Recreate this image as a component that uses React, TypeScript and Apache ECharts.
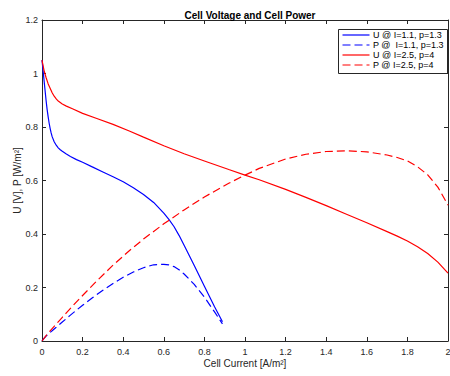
import React, { useEffect, useRef } from 'react';
import * as echarts from 'echarts';

// Operating point I=1.1, p=1.3
const currentLow = [0, 0.004, 0.008, 0.012, 0.016, 0.02, 0.025, 0.03, 0.035, 0.04, 0.045, 0.05, 0.06, 0.07, 0.08, 0.09, 0.1, 0.12, 0.14, 0.17, 0.2, 0.25, 0.3, 0.35, 0.4, 0.45, 0.5, 0.55, 0.6, 0.625, 0.65, 0.675, 0.7, 0.75, 0.8, 0.85, 0.889];
const voltageLow = [1.05, 1.02, 0.99, 0.96, 0.93, 0.9, 0.867, 0.84, 0.815, 0.795, 0.778, 0.764, 0.745, 0.732, 0.722, 0.715, 0.709, 0.699, 0.69, 0.678, 0.668, 0.65, 0.632, 0.614, 0.595, 0.573, 0.548, 0.518, 0.478, 0.455, 0.428, 0.395, 0.358, 0.282, 0.205, 0.128, 0.072];
const powerLow = [0, 0.0041, 0.0079, 0.0115, 0.0149, 0.018, 0.0217, 0.0252, 0.0285, 0.0318, 0.035, 0.0382, 0.0447, 0.0512, 0.0578, 0.0644, 0.0709, 0.0839, 0.0966, 0.1153, 0.1336, 0.1625, 0.1896, 0.2149, 0.238, 0.2579, 0.274, 0.2849, 0.2868, 0.2844, 0.2782, 0.2666, 0.2506, 0.2115, 0.164, 0.1088, 0.064];

// Operating point I=2.5, p=4
const currentHigh = [0, 0.01, 0.02, 0.03, 0.04, 0.05, 0.06, 0.07, 0.08, 0.1, 0.12, 0.15, 0.2, 0.27, 0.35, 0.43, 0.5, 0.6, 0.7, 0.8, 0.92, 1.0, 1.07, 1.2, 1.3, 1.4, 1.5, 1.6, 1.7, 1.75, 1.8, 1.85, 1.9, 1.95, 2.0];
const voltageHigh = [1.05, 1.012, 0.985, 0.962, 0.945, 0.928, 0.915, 0.905, 0.897, 0.886, 0.878, 0.868, 0.851, 0.832, 0.81, 0.785, 0.762, 0.73, 0.7, 0.673, 0.641, 0.62, 0.603, 0.567, 0.537, 0.506, 0.474, 0.442, 0.409, 0.392, 0.374, 0.352, 0.327, 0.295, 0.254];
const powerHigh = [0, 0.0101, 0.0197, 0.0289, 0.0378, 0.0464, 0.0549, 0.0634, 0.0718, 0.0886, 0.1054, 0.1302, 0.1702, 0.2246, 0.2835, 0.3376, 0.381, 0.438, 0.49, 0.5384, 0.5897, 0.62, 0.6452, 0.6804, 0.6981, 0.7084, 0.711, 0.7072, 0.6953, 0.686, 0.6732, 0.6512, 0.6213, 0.5753, 0.508];

const seriesNames = ['U @ I=1.1, p=1.3', 'P @  I=1.1, p=1.3', 'U @ I=2.5, p=4', 'P @ I=2.5, p=4'];
const seriesColors = ['#0000ff', '#0000ff', '#ff0000', '#ff0000'];
const seriesDashed = [false, true, false, true];
const titleText = 'Cell Voltage and Cell Power';
const xName = 'Cell Current [A/m²]';
const yName = 'U [V], P [W/m²]';

const FONT = '"Liberation Sans", Arial, Helvetica, sans-serif';
const AX = '#262626';
const DASH = [8, 4];

const pairs = (xs: number[], ys: number[]) => xs.map((x, i) => [x, ys[i]]);

export default function App() {
  const ref = useRef<HTMLDivElement>(null);
  useEffect(() => {
    if (!ref.current) return;
    const chart = echarts.init(ref.current, undefined, { renderer: 'svg' });
    const axisCommon = {
      type: 'value' as const,
      axisLine: { show: true, onZero: false, lineStyle: { color: AX, width: 1 } },
      axisTick: { show: true, inside: true, length: 4, lineStyle: { color: AX, width: 1 } },
      splitLine: { show: false },
    };
    const mk = (i: number, xs: number[], ys: number[]) => ({
      name: seriesNames[i],
      type: 'line',
      data: pairs(xs, ys),
      symbol: 'none',
      showSymbol: false,
      smooth: false,
      xAxisIndex: 0,
      yAxisIndex: 0,
      lineStyle: { color: seriesColors[i], width: 1.2, type: seriesDashed[i] ? DASH : 'solid' },
      itemStyle: { color: seriesColors[i] },
    });

    // legend box drawn MATLAB-style
    const lgX = 338;
    const lgY = 29;
    const lgW = 109;
    const lgH = 44;
    const rowH = 10;
    const legendChildren: any[] = [
      {
        type: 'rect',
        shape: { x: lgX + 0.5, y: lgY + 0.5, width: lgW, height: lgH },
        style: { fill: '#ffffff', stroke: AX, lineWidth: 1 },
      },
    ];
    seriesNames.forEach((name, i) => {
      const cy = lgY + 6 + i * rowH;
      legendChildren.push({
        type: 'line',
        shape: { x1: lgX + 4.5, y1: cy, x2: lgX + 31.5, y2: cy },
        style: { stroke: seriesColors[i], lineWidth: 1.2, lineDash: seriesDashed[i] ? DASH : null },
      });
      legendChildren.push({
        type: 'text',
        x: lgX + 35,
        y: cy,
        style: {
          text: name,
          fontFamily: FONT,
          fontSize: 9,
          fill: '#000',
          verticalAlign: 'middle',
          align: 'left',
        },
      });
    });

    chart.setOption({
      animation: false,
      backgroundColor: '#ffffff',
      textStyle: { fontFamily: FONT },
      title: {
        text: titleText,
        left: 245,
        top: 5,
        textAlign: 'center',
        textStyle: { fontFamily: FONT, fontSize: 10, fontWeight: 'bold', color: '#000' },
      },
      grid: { left: 42, right: 2, top: 20, bottom: 35, containLabel: false, outerBoundsMode: 'none' },
      xAxis: [
        {
          ...axisCommon,
          position: 'bottom',
          min: 0,
          max: 2,
          interval: 0.2,
          name: xName,
          nameLocation: 'middle',
          nameGap: 17,
          nameMoveOverlap: false,
          nameTextStyle: { fontFamily: FONT, fontSize: 10, color: AX },
          axisLabel: { show: true, color: AX, fontSize: 9, fontFamily: FONT, margin: 6, hideOverlap: false },
        },
        {
          ...axisCommon,
          position: 'top',
          min: 0,
          max: 2,
          interval: 0.2,
          axisLabel: { show: false },
        },
      ],
      yAxis: [
        {
          ...axisCommon,
          position: 'left',
          min: 0,
          max: 1.2,
          interval: 0.2,
          name: yName,
          nameLocation: 'middle',
          nameGap: 20,
          nameMoveOverlap: false,
          nameTextStyle: { fontFamily: FONT, fontSize: 10, color: AX },
          axisLabel: { show: true, color: AX, fontSize: 9, fontFamily: FONT, margin: 4 },
        },
        {
          ...axisCommon,
          position: 'right',
          min: 0,
          max: 1.2,
          interval: 0.2,
          axisLabel: { show: false },
        },
      ],
      graphic: [{ type: 'group', children: legendChildren, z: 100 }],
      series: [
        mk(0, currentLow, voltageLow),
        mk(1, currentLow, powerLow),
        mk(2, currentHigh, voltageHigh),
        mk(3, currentHigh, powerHigh),
      ],
    });
    return () => chart.dispose();
  }, []);
  return <div ref={ref} style={{ position: 'fixed', left: 0, top: 0, width: 450, height: 376 }} />;
}
